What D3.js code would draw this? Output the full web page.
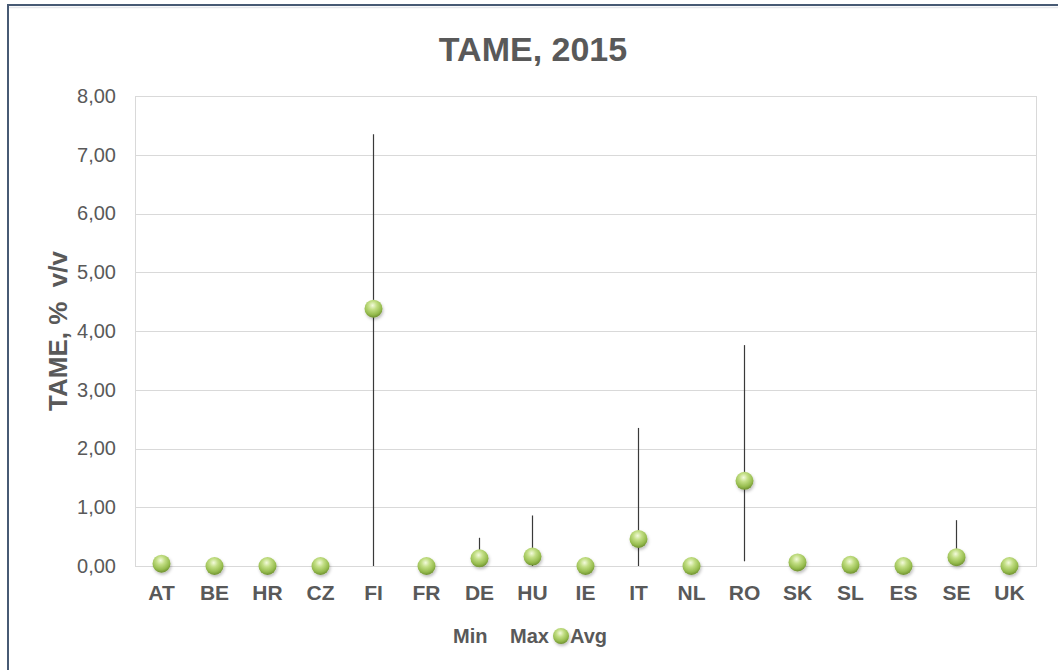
<!DOCTYPE html>
<html>
<head>
<meta charset="utf-8">
<script src="https://cdn.jsdelivr.net/npm/d3@7"></script>
<style>
  body { margin: 0; background: #fff; }
  text { font-family: "Liberation Sans", Arial, sans-serif; }
</style>
</head>
<body>
<script>
const width = 1058;
const height = 670;
const margin = {left: 135, top: 96, right: 22, bottom: 104}; // plot area insets

// data
const countries = ["AT", "BE", "HR", "CZ", "FI", "FR", "DE", "HU", "IE", "IT", "NL", "RO", "SK", "SL", "ES", "SE", "UK"];
const minValues = [0.04, 0, 0, 0, 0, 0, 0.02, 0, 0, 0, 0, 0.08, 0.06, 0.02, 0, 0.02, 0];
const maxValues = [0.04, 0, 0, 0, 7.35, 0, 0.48, 0.86, 0, 2.35, 0, 3.76, 0.06, 0.02, 0, 0.78, 0];
const avgValues = [0.04, 0, 0, 0, 4.38, 0, 0.13, 0.16, 0, 0.46, 0, 1.45, 0.06, 0.02, 0, 0.15, 0];
const yTicks = [0, 1, 2, 3, 4, 5, 6, 7, 8];
const legendItems = ["Min", "Max", "Avg"];

const textColor = "#595959";

let svg = d3.select("body").append("svg")
    .attr("width", width)
    .attr("height", height);

// gradient for the shiny green balls
const defs = svg.append("defs");
const grad = defs.append("radialGradient")
    .attr("id", "ball")
    .attr("cx", "45%").attr("cy", "32%").attr("r", "68%");
grad.append("stop").attr("offset", "0%").attr("stop-color", "#f3fadc");
grad.append("stop").attr("offset", "35%").attr("stop-color", "#c2de84");
grad.append("stop").attr("offset", "75%").attr("stop-color", "#96bc4e");
grad.append("stop").attr("offset", "100%").attr("stop-color", "#6f9130");

const shadow = defs.append("filter").attr("id", "shadow")
    .attr("x", "-50%").attr("y", "-50%").attr("width", "200%").attr("height", "200%");
shadow.append("feDropShadow")
    .attr("dx", 1).attr("dy", 2).attr("stdDeviation", 1.5)
    .attr("flood-color", "#000").attr("flood-opacity", 0.25);

// outer chart frame (cropped at right and bottom)
svg.append("rect")
    .attr("x", 8).attr("y", 5)
    .attr("width", 1200).attr("height", 800)
    .attr("fill", "none")
    .attr("stroke", "#475a74")
    .attr("stroke-width", 2);
svg.append("line")
    .attr("x1", 9).attr("x2", width)
    .attr("y1", 7.5).attr("y2", 7.5)
    .attr("stroke", "#e6e8ec").attr("stroke-width", 1.5);

const x = d3.scaleBand()
    .domain(countries)
    .range([margin.left, width - margin.right]);

const y = d3.scaleLinear()
    .domain([0, 8])
    .range([height - margin.bottom, margin.top]);

// gridlines
svg.append("g")
    .selectAll("line")
    .data(yTicks)
    .enter()
    .append("line")
    .attr("x1", margin.left)
    .attr("x2", width - margin.right)
    .attr("y1", d => Math.round(y(d)) + 0.5)
    .attr("y2", d => Math.round(y(d)) + 0.5)
    .attr("stroke", "#d9d9d9")
    .attr("stroke-width", 1);

// plot area border
svg.append("rect")
    .attr("x", margin.left + 0.5)
    .attr("y", Math.round(y(8)) + 0.5)
    .attr("width", width - margin.right - margin.left)
    .attr("height", Math.round(y(0)) - Math.round(y(8)))
    .attr("fill", "none")
    .attr("stroke", "#d9d9d9");

// y axis labels
const yAxis = svg.append("g")
    .attr("transform", "translate(" + (margin.left - 19) + ",0)")
    .call(d3.axisLeft(y).tickValues(yTicks).tickSize(0).tickPadding(0)
        .tickFormat(d => d3.format(".2f")(d).replace(".", ",")));
yAxis.select(".domain").remove();
yAxis.selectAll("text")
    .style("font-size", "20px")
    .style("font-family", "'Liberation Sans', Arial, sans-serif")
    .attr("fill", textColor);

// x axis labels
const xAxis = svg.append("g")
    .attr("transform", "translate(0," + (y(0) + 19) + ")")
    .call(d3.axisBottom(x).tickSize(0).tickPadding(0));
xAxis.select(".domain").remove();
xAxis.selectAll("text")
    .attr("dy", "0.71em")
    .style("font-size", "21px")
    .style("font-weight", "bold")
    .style("font-family", "'Liberation Sans', Arial, sans-serif")
    .attr("fill", textColor);

// high-low lines
svg.append("g")
    .selectAll("line")
    .data(countries)
    .enter()
    .append("line")
    .attr("x1", d => x(d) + x.bandwidth() / 2)
    .attr("x2", d => x(d) + x.bandwidth() / 2)
    .attr("y1", (d, i) => y(minValues[i]))
    .attr("y2", (d, i) => y(maxValues[i]))
    .attr("stroke", "#3a3a3a")
    .attr("stroke-width", 1.2);

// average markers
svg.append("g")
    .selectAll("circle")
    .data(countries)
    .enter()
    .append("circle")
    .attr("cx", d => x(d) + x.bandwidth() / 2)
    .attr("cy", (d, i) => y(avgValues[i]))
    .attr("r", 9)
    .attr("fill", "url(#ball)")
    .attr("filter", "url(#shadow)");

// title
svg.append("text")
    .attr("x", 533)
    .attr("y", 61)
    .attr("text-anchor", "middle")
    .style("font-size", "34px")
    .style("font-weight", "bold")
    .attr("fill", textColor)
    .text("TAME, 2015");

// y axis title
svg.append("text")
    .attr("transform", "translate(67," + y(4) + ") rotate(-90)")
    .attr("text-anchor", "middle")
    .style("font-size", "26px")
    .style("font-weight", "bold")
    .style("white-space", "pre")
    .attr("fill", textColor)
    .text("TAME, %  v/v");

// legend
const legend = svg.append("g").attr("transform", "translate(0,643)");
legend.append("text").attr("x", 453).attr("y", 0)
    .style("font-size", "20px").style("font-weight", "bold")
    .attr("fill", textColor).text(legendItems[0]);
legend.append("text").attr("x", 510).attr("y", 0)
    .style("font-size", "20px").style("font-weight", "bold")
    .attr("fill", textColor).text(legendItems[1]);
legend.append("circle").attr("cx", 561).attr("cy", -7).attr("r", 8)
    .attr("fill", "url(#ball)").attr("filter", "url(#shadow)");
legend.append("text").attr("x", 570).attr("y", 0)
    .style("font-size", "20px").style("font-weight", "bold")
    .attr("fill", textColor).text(legendItems[2]);
</script>
</body>
</html>
